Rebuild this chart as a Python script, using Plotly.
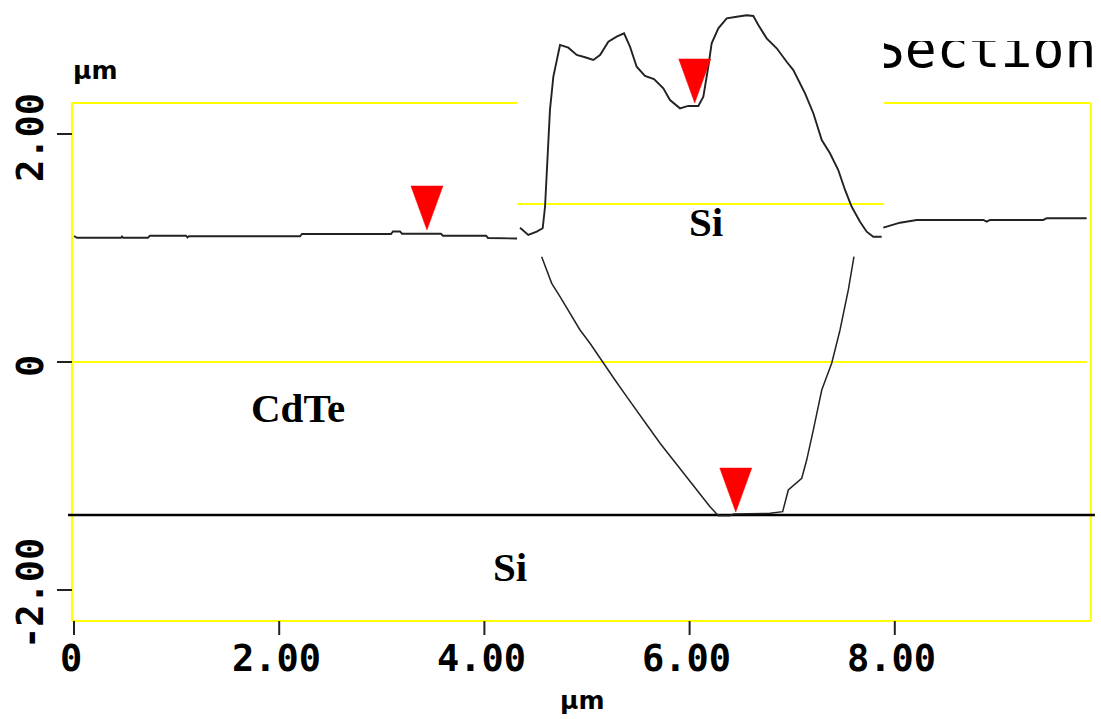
import plotly.graph_objects as go

# ---------------- data (µm) ----------------
# flat CdTe surface profile (left part)
left_x = [0.000, 0.029, 0.458, 0.468, 0.478, 0.721, 0.741, 1.092, 1.106, 1.121,
          2.203, 2.222, 3.090, 3.109, 3.177, 3.197, 3.577, 3.596, 4.016, 4.035, 4.318]
left_y = [1.105, 1.090, 1.090, 1.101, 1.090, 1.090, 1.108, 1.108, 1.092, 1.103,
          1.103, 1.123, 1.123, 1.145, 1.145, 1.125, 1.125, 1.108, 1.108, 1.088, 1.083]

# Si island profile (inset section)
island_x = [4.347, 4.428, 4.510, 4.568, 4.591, 4.607, 4.639, 4.672, 4.705, 4.737,
            4.818, 4.900, 4.981, 5.061, 5.127, 5.208, 5.289, 5.361, 5.419, 5.484,
            5.565, 5.653, 5.744, 5.809, 5.906, 5.987, 6.085, 6.134, 6.182, 6.215,
            6.280, 6.362, 6.459, 6.556, 6.621, 6.670, 6.751, 6.849, 6.946, 7.011,
            7.125, 7.206, 7.288, 7.368, 7.449, 7.515, 7.580, 7.661, 7.726, 7.790, 7.872]
island_y = [1.178, 1.114, 1.143, 1.173, 1.362, 1.655, 2.211, 2.503, 2.649, 2.781,
            2.757, 2.693, 2.673, 2.649, 2.693, 2.810, 2.854, 2.883, 2.766, 2.590,
            2.509, 2.482, 2.401, 2.298, 2.225, 2.246, 2.246, 2.327, 2.590, 2.796,
            2.927, 3.015, 3.029, 3.041, 3.035, 2.956, 2.839, 2.752, 2.634, 2.561,
            2.357, 2.182, 1.947, 1.831, 1.684, 1.509, 1.362, 1.231, 1.143, 1.099, 1.099]

# flat surface profile (right part)
right_x = [7.888, 8.051, 8.213, 8.863, 8.896, 8.928, 9.447, 9.481, 9.870]
right_y = [1.178, 1.222, 1.246, 1.246, 1.231, 1.246, 1.246, 1.261, 1.261]

# V-groove profile
groove_x = [4.558, 4.656, 4.737, 4.834, 4.932, 5.029, 5.159, 5.273, 5.387, 5.484,
            5.597, 5.712, 5.841, 5.972, 6.101, 6.199, 6.280, 6.394, 6.426, 6.784,
            6.907, 6.962, 7.093, 7.141, 7.206, 7.288, 7.385, 7.466, 7.547, 7.602]
groove_y = [0.924, 0.690, 0.573, 0.427, 0.281, 0.164, -0.011, -0.158, -0.304, -0.421,
            -0.568, -0.713, -0.860, -1.006, -1.152, -1.269, -1.348, -1.348, -1.333, -1.327,
            -1.313, -1.123, -1.020, -0.860, -0.596, -0.246, -0.011, 0.281, 0.632, 0.924]

# cursor markers (tip positions)
marker_x = [3.44, 6.05, 6.45]
marker_y = [1.158, 2.272, -1.316]

interface_y = -1.342        # CdTe / Si interface line
si_layer_y = 1.386          # Si layer line in the inset
inset_x = [4.318, 7.895]    # extent of inset section
frame_x = [-0.02, 9.91]
frame_y = [-2.272, 2.272]

xtick_vals = [0, 2, 4, 6, 8]
xtick_text = ["0", "2.00", "4.00", "6.00", "8.00"]
ytick_vals = [2, 0, -2]
ytick_text = ["2.00", "0", "-2.00"]

labels = ["CdTe", "Si", "Si"]
label_x = [2.183, 6.160, 4.254]
label_y = [-0.404, 1.224, -1.794]

# ---------------- figure ----------------
X_RANGE = [-0.7212, 10.0097]
Y_RANGE = [-3.1316, 3.1754]
YEL = "#ffff00"
LINE = "#222222"

fig = go.Figure()

# "Section" title (partly hidden like in the original screenshot)
fig.add_trace(go.Scatter(
    x=[7.787], y=[2.704], mode="text", text=["Section"],
    textposition="middle right", cliponaxis=False, hoverinfo="skip",
    textfont=dict(family="DejaVu Sans Mono", size=53, color="#000000")))

for xs, ys, w in [(left_x, left_y, 1.9), (island_x, island_y, 1.9),
                  (right_x, right_y, 1.9), (groove_x, groove_y, 1.5)]:
    fig.add_trace(go.Scatter(x=xs, y=ys, mode="lines",
                             line=dict(color=LINE, width=w),
                             hoverinfo="skip"))

# red cursor triangles (tall, narrow), built from marker positions
HW, HT = 0.156, 0.386
tx, ty = [], []
for mx, my in zip(marker_x, marker_y):
    tx += [mx - HW, mx + HW, mx, mx - HW, None]
    ty += [my + HT, my + HT, my, my + HT, None]
fig.add_trace(go.Scatter(x=tx, y=ty, mode="lines", fill="toself",
                         fillcolor="#ff0000", line=dict(color="#ff0000", width=0.5),
                         hoverinfo="skip"))

shapes = []
def seg(x0, y0, x1, y1, color, width, layer="below"):
    shapes.append(dict(type="line", xref="x", yref="y", x0=x0, y0=y0, x1=x1, y1=y1,
                       line=dict(color=color, width=width), layer=layer))

# yellow frame and lines
seg(frame_x[0], frame_y[0], frame_x[0], frame_y[1], YEL, 2)
seg(frame_x[1], frame_y[0], frame_x[1], frame_y[1], YEL, 2)
seg(frame_x[0], frame_y[0], frame_x[1], frame_y[0], YEL, 2)
seg(frame_x[0], frame_y[1], inset_x[0], frame_y[1], YEL, 2)
seg(inset_x[1], frame_y[1], frame_x[1], frame_y[1], YEL, 2)
seg(frame_x[0], 0, frame_x[1] - 0.04, 0, YEL, 2)
seg(inset_x[0], si_layer_y, inset_x[1], si_layer_y, YEL, 2)
# interface line
seg(-0.058, interface_y, 9.95, interface_y, "#000000", 2.5)
# ticks
for v in ytick_vals:
    seg(-0.166, v, frame_x[0], v, "#222222", 2)
for v in xtick_vals:
    seg(v, frame_y[0], v, -2.395, "#222222", 2)

# white masks hiding part of the title
shapes.append(dict(type="rect", xref="x", yref="y", x0=7.60, x1=10.2, y0=2.815, y1=3.3,
                   fillcolor="white", line=dict(width=0), layer="above"))
shapes.append(dict(type="rect", xref="x", yref="y", x0=7.60, x1=7.895, y0=2.45, y1=3.3,
                   fillcolor="white", line=dict(width=0), layer="above"))

annotations = []
TICKFONT = dict(family="DejaVu Sans Mono", size=37, color="#000000", weight="bold")
for v, t in zip(xtick_vals, xtick_text):
    annotations.append(dict(x=v - 0.03, y=-2.601, xref="x", yref="y", text=t,
                            showarrow=False, xanchor="center", yanchor="middle",
                            font=TICKFONT))
for v, t in zip(ytick_vals, ytick_text):
    annotations.append(dict(x=-0.419, y=v - 0.035, xref="x", yref="y", text=t,
                            showarrow=False, xanchor="center", yanchor="middle",
                            textangle=-90, font=TICKFONT))
UNITFONT = dict(family="DejaVu Sans", size=25, color="#000000", weight="bold")
annotations.append(dict(x=0.205, y=2.561, xref="x", yref="y", text="µm",
                        showarrow=False, font=UNITFONT))
annotations.append(dict(x=4.956, y=-2.965, xref="x", yref="y", text="µm",
                        showarrow=False, font=UNITFONT))
for t, lx, ly in zip(labels, label_x, label_y):
    annotations.append(dict(x=lx, y=ly, xref="x", yref="y", text=t, showarrow=False,
                            font=dict(family="Liberation Serif, Times New Roman", size=41,
                                      color="#000000", weight="bold")))

fig.update_layout(
    width=1101, height=719, autosize=False,
    margin=dict(l=0, r=0, t=0, b=0, pad=0),
    paper_bgcolor="white", plot_bgcolor="white",
    showlegend=False,
    xaxis=dict(range=X_RANGE, visible=False, fixedrange=True),
    yaxis=dict(range=Y_RANGE, visible=False, fixedrange=True),
    shapes=shapes, annotations=annotations,
)

fig.write_html("out.html")
